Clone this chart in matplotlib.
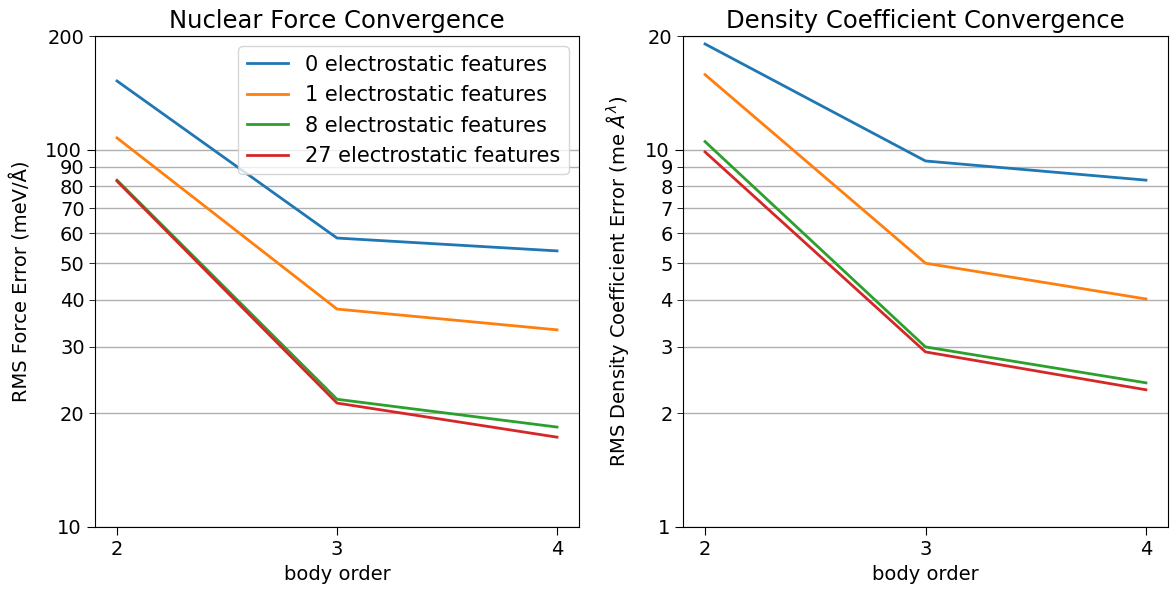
import matplotlib
matplotlib.use("Agg")
import matplotlib.pyplot as plt
from matplotlib.ticker import FuncFormatter

body_order = [2, 3, 4]
series_labels = ["0 electrostatic features", "1 electrostatic features",
                 "8 electrostatic features", "27 electrostatic features"]
colors = ["#1f77b4", "#ff7f0e", "#2ca02c", "#d62728"]

force_err = [
    [152, 58.3, 53.9],
    [107.4, 37.8, 33.3],
    [83, 21.8, 18.4],
    [82.5, 21.3, 17.3],
]
density_err = [
    [19.05, 9.33, 8.3],
    [15.8, 5.0, 4.02],
    [10.5, 3.0, 2.41],
    [9.86, 2.91, 2.31],
]

plt.rcParams['font.family'] = ['DejaVu Sans']
fig = plt.figure(figsize=(11.72, 5.92), dpi=100)
ax1 = fig.add_axes([95/1172, 65/592, 484/1172, 491/592])
ax2 = fig.add_axes([683/1172, 65/592, 485/1172, 491/592])

fmt = FuncFormatter(lambda v, p: f"{v:g}")

for ax, data, ylim, title, ylabel in [
    (ax1, force_err, (10, 200), "Nuclear Force Convergence", "RMS Force Error (meV/Å)"),
    (ax2, density_err, (1, 20), "Density Coefficient Convergence", r"RMS Density Coefficient Error (me $\AA^\lambda$)"),
]:
    for vals, lab, c in zip(data, series_labels, colors):
        ax.plot(body_order, vals, color=c, lw=2, label=lab)
    ax.set_yscale("log")
    ax.set_ylim(*ylim)
    ax.set_xticks(body_order)
    ax.yaxis.set_major_formatter(fmt)
    ax.yaxis.set_minor_formatter(fmt)
    ax.grid(True, which="both", axis="y", color="#b0b0b0", lw=1)
    ax.tick_params(labelsize=14, which="both")
    ax.tick_params(which="major", length=6)
    ax.tick_params(which="minor", length=4)
    ax.set_title(title, fontsize=17.5)
    ax.set_xlabel("body order", fontsize=14)
    ax.set_ylabel(ylabel, fontsize=14, labelpad=10)

ax1.legend(loc="upper right", fontsize=15)
fig.savefig("out.png", dpi=100)
